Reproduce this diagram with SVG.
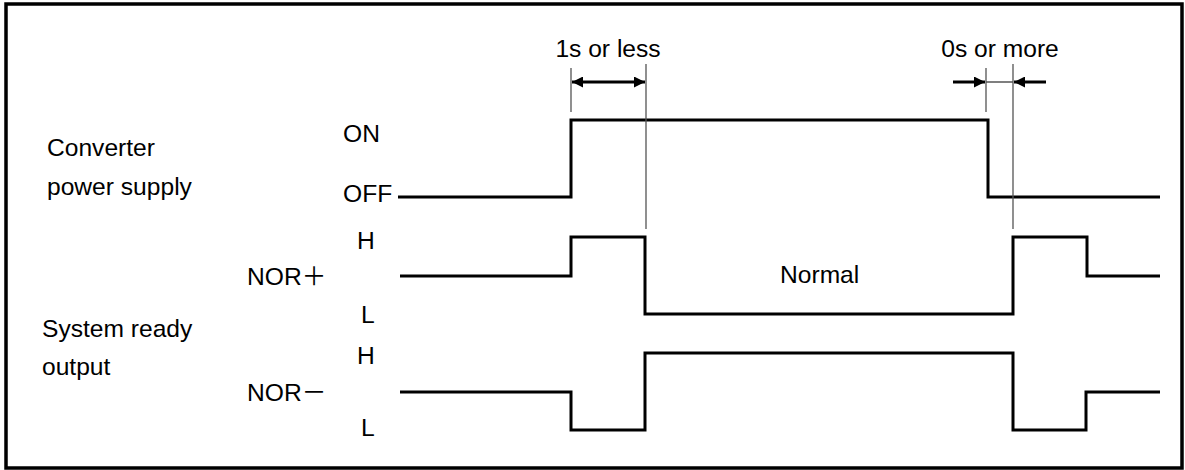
<svg xmlns="http://www.w3.org/2000/svg" width="1185" height="470" viewBox="0 0 1185 470">
<style>
.t{font-family:"Liberation Sans","Noto Sans CJK JP",Arial,sans-serif;font-size:24.6px;fill:#000}
.w{fill:none;stroke:#000;stroke-width:3;stroke-linejoin:miter}
.g{fill:none;stroke:#555;stroke-width:1.3}
.a{fill:none;stroke:#000;stroke-width:3}
</style>
<defs>
<marker id="ah" markerUnits="userSpaceOnUse" markerWidth="11" markerHeight="11" refX="10" refY="5" orient="auto-start-reverse" viewBox="0 0 10 10">
<path d="M0,0 L10,5 L0,10 z" fill="#000"/>
</marker>
</defs>
<rect x="6" y="4" width="1176" height="464" fill="#fff" stroke="#000" stroke-width="3.5"/>
<g id="labels">
<text class="t" x="47" y="156">Converter</text>
<text class="t" x="47" y="195">power supply</text>
<text class="t" x="42" y="337">System ready</text>
<text class="t" x="42" y="375">output</text>
</g>
<g id="power">
<text class="t" x="343" y="142">ON</text>
<text class="t" x="343" y="202">OFF</text>
<path class="w" d="M398,197 H571 V120 H988 V197 H1160"/>
</g>
<g id="norplus">
<text class="t" x="247" y="285">NOR＋</text>
<text class="t" x="357" y="249">H</text>
<text class="t" x="361" y="323">L</text>
<text class="t" x="780" y="283">Normal</text>
<path class="w" d="M400,276 H571 V237 H645 V314 H1013 V237 H1087 V276 H1160"/>
</g>
<g id="norminus">
<text class="t" x="247" y="401">NOR－</text>
<text class="t" x="357" y="364">H</text>
<text class="t" x="361" y="436">L</text>
<path class="w" d="M400,392 H571 V430 H645 V353 H1013 V430 H1086 V392 H1160"/>
</g>
<g id="connectors">
<path class="g" d="M571,68 V112 M646,64 V229 M986,68 V112 M1013,64 V229 M986,82 H1013"/>
<line class="a" x1="572" y1="82" x2="645" y2="82" marker-start="url(#ah)" marker-end="url(#ah)"/>
<line class="a" x1="953" y1="82" x2="985" y2="82" marker-end="url(#ah)"/>
<line class="a" x1="1046" y1="82" x2="1014" y2="82" marker-end="url(#ah)"/>
<text class="t" x="608" y="57" text-anchor="middle">1s or less</text>
<text class="t" x="1000" y="57" text-anchor="middle">0s or more</text>
</g>
</svg>
